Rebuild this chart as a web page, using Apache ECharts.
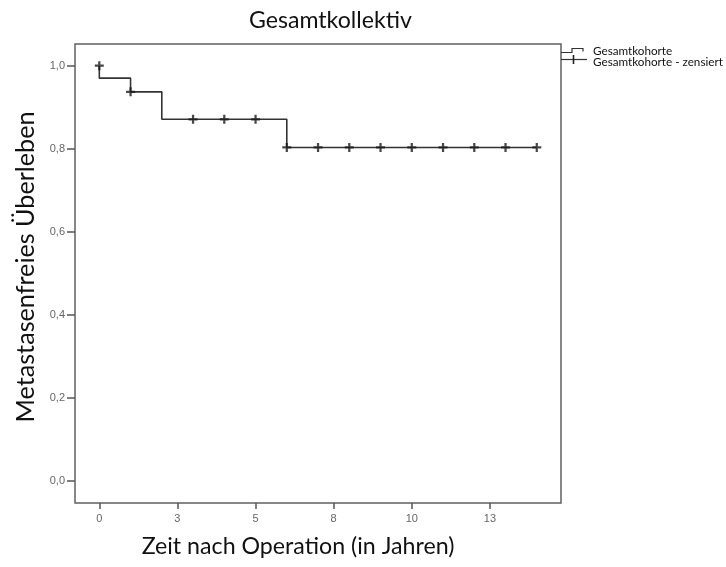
<!DOCTYPE html>
<html>
<head>
<meta charset="utf-8">
<script src="https://cdn.jsdelivr.net/npm/echarts@6/dist/echarts.min.js"></script>
<style>
html,body{margin:0;padding:0;background:#fff;}
#chart{width:726px;height:567px;}
</style>
</head>
<body>
<div id="chart"></div>
<script>
// ---- data ----
const titleText = 'Gesamtkollektiv';
const xAxisName = 'Zeit nach Operation (in Jahren)';
const yAxisName = 'Metastasenfreies Überleben';
const seriesNames = ['Gesamtkohorte', 'Gesamtkohorte - zensiert'];

const stepTimes = [0, 0, 1, 2, 6, 14];
const stepSurvival = [1.0, 0.970, 0.937, 0.871, 0.803, 0.803];

const censorTimes = [0, 1, 3, 4, 5, 6, 7, 8, 9, 10, 11, 12, 13, 14];
const censorSurvival = [1.0, 0.937, 0.871, 0.871, 0.871, 0.803, 0.803, 0.803, 0.803, 0.803, 0.803, 0.803, 0.803, 0.803];

const xTickValues = [0, 2.5, 5, 7.5, 10, 12.5];
const xTickLabels = ['0', '3', '5', '8', '10', '13'];
const yTickValues = [0, 0.2, 0.4, 0.6, 0.8, 1.0];
const yTickLabels = ['0,0', '0,2', '0,4', '0,6', '0,8', '1,0'];

// ---- helpers ----
const FAMILY = 'Lato, "Open Sans", sans-serif';
const measureCtx = document.createElement('canvas').getContext('2d');
function fitSize(text, width, family) {
  measureCtx.font = '100px ' + family;
  return 100 * width / measureCtx.measureText(text).width;
}
function lookup(values, labels, v) {
  for (let i = 0; i < values.length; i++) {
    if (Math.abs(values[i] - v) < 1e-6) return labels[i];
  }
  return '';
}

const titleSize = fitSize(titleText, 163, FAMILY);
const xNameSize = fitSize(xAxisName, 313, FAMILY);
const yNameSize = fitSize(yAxisName, 311, FAMILY);
const legendSize = fitSize(seriesNames[1], 130, FAMILY);

const stepData = stepTimes.map((t, i) => [t, stepSurvival[i]]);
const censorData = censorTimes.map((t, i) => [t, censorSurvival[i]]);

const chart = echarts.init(document.getElementById('chart'), null, {renderer: 'canvas'});

const option = {
  animation: false,
  backgroundColor: '#fff',
  title: {
    text: titleText,
    left: 249,
    top: 21 - titleSize * 0.6,
    padding: 0,
    textStyle: {
      fontFamily: FAMILY, fontWeight: 'normal', color: '#111',
      fontSize: titleSize, lineHeight: titleSize * 1.2
    }
  },
  grid: {
    left: 75, top: 44, right: 165, bottom: 64,
    show: true, borderColor: '#606060', borderWidth: 1.5, backgroundColor: '#fff'
  },
  xAxis: {
    type: 'value',
    min: -0.778, max: 14.775,
    axisLine: {show: false, onZero: false},
    splitLine: {show: false},
    axisTick: {show: true, customValues: xTickValues, length: 6, inside: false,
      lineStyle: {color: '#555', width: 1.5}},
    axisLabel: {
      customValues: xTickValues,
      formatter: v => lookup(xTickValues, xTickLabels, v),
      fontFamily: '"Liberation Sans", Arial, sans-serif', fontSize: 11, color: '#666', margin: 10
    }
  },
  yAxis: {
    type: 'value',
    min: -0.053, max: 1.0522,
    axisLine: {show: false, onZero: false},
    splitLine: {show: false},
    axisTick: {show: true, customValues: yTickValues, length: 8, inside: false,
      lineStyle: {color: '#555', width: 1.5}},
    axisLabel: {
      customValues: yTickValues,
      formatter: v => lookup(yTickValues, yTickLabels, v),
      fontFamily: '"Liberation Sans", Arial, sans-serif', fontSize: 11, color: '#666', margin: 10
    }
  },
  series: [
    {
      name: seriesNames[0],
      type: 'line',
      step: 'end',
      data: stepData,
      symbol: 'none',
      lineStyle: {color: '#333', width: 1.6},
      z: 2
    },
    {
      name: seriesNames[1],
      type: 'scatter',
      data: censorData,
      symbol: 'path://M3,0H5V3H8V5H5V8H3V5H0V3H3Z',
      symbolSize: 9,
      itemStyle: {color: '#1a1a1a'},
      z: 3
    }
  ],
  graphic: [
    {
      type: 'text', x: 298, y: 547,
      style: {text: xAxisName, fontFamily: FAMILY, fontSize: xNameSize, fill: '#111',
        align: 'center', verticalAlign: 'middle'}
    },
    {
      type: 'text', x: 26, y: 267, rotation: Math.PI / 2,
      style: {text: yAxisName, fontFamily: FAMILY, fontSize: yNameSize, fill: '#111',
        align: 'center', verticalAlign: 'middle'}
    },
    // legend symbols
    {
      type: 'polyline',
      shape: {points: [[561, 52.5], [572, 52.5], [572, 48.5], [583, 48.5], [583, 51.5]]},
      style: {stroke: '#333', lineWidth: 1.2, fill: null}
    },
    {
      type: 'line',
      shape: {x1: 561, y1: 59.5, x2: 587, y2: 59.5},
      style: {stroke: '#333', lineWidth: 1.2}
    },
    {
      type: 'line',
      shape: {x1: 573.5, y1: 55, x2: 573.5, y2: 64},
      style: {stroke: '#222', lineWidth: 1.6}
    },
    {
      type: 'text', x: 593, y: 51,
      style: {text: seriesNames[0], fontFamily: FAMILY, fontSize: legendSize, fill: '#111',
        align: 'left', verticalAlign: 'middle'}
    },
    {
      type: 'text', x: 593, y: 62,
      style: {text: seriesNames[1], fontFamily: FAMILY, fontSize: legendSize, fill: '#111',
        align: 'left', verticalAlign: 'middle'}
    }
  ]
};
chart.setOption(option);
</script>
</body>
</html>
